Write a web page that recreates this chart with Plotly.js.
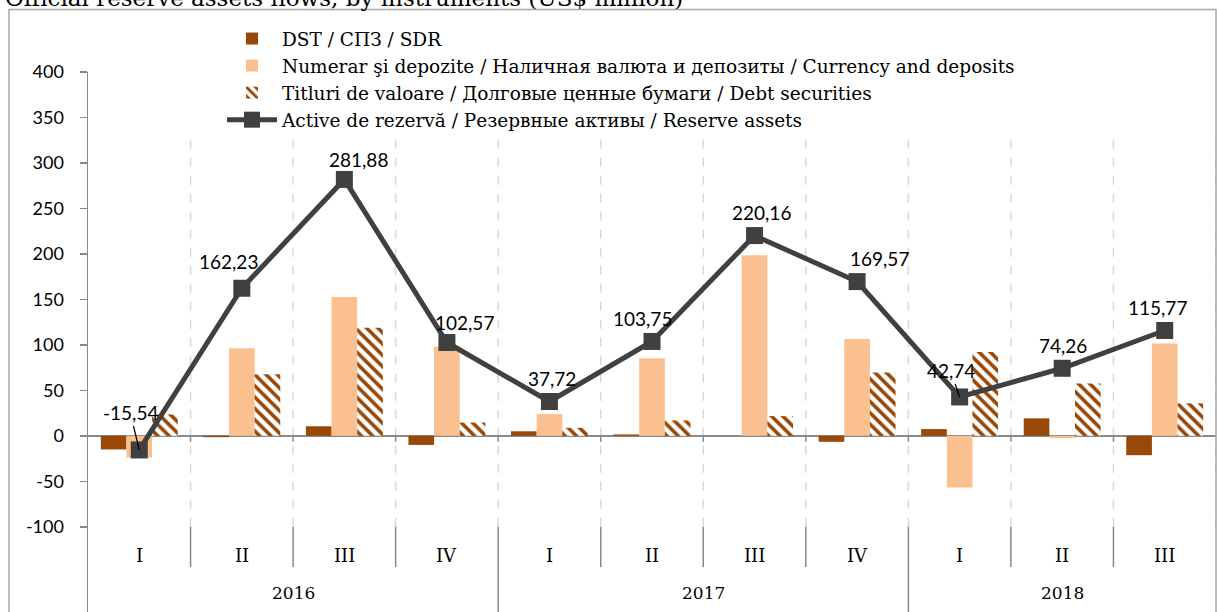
<!DOCTYPE html>
<html>
<head>
<meta charset="utf-8">
<script src="https://cdn.plot.ly/plotly-3.0.1.min.js"></script>
<style>
  html, body { margin: 0; padding: 0; background: #fff; }
  #chart { width: 1217px; height: 612px; }
</style>
</head>
<body>
<div id="chart"></div>
<script>
// ---------- data ----------
const quarters = ['I', 'II', 'III', 'IV', 'I', 'II', 'III', 'IV', 'I', 'II', 'III'];
const yearOfPeriod = ['2016', '2016', '2016', '2016', '2017', '2017', '2017', '2017', '2018', '2018', '2018'];
const years = ['2016', '2017', '2018'];
const dst = [-15, -1.5, 10.5, -10, 5, 1.5, 0, -6.6, 7.4, 19.2, -21.3];
const numerar = [-24, 96.2, 152.5, 98, 23.9, 85.3, 198.5, 106.5, -56.9, -2.5, 101.4];
const titluri = [23.5, 67.6, 118.9, 14.6, 8.8, 16.9, 21.7, 69.7, 92.2, 57.6, 35.7];
const reserve = [-15.54, 162.23, 281.88, 102.57, 37.72, 103.75, 220.16, 169.57, 42.74, 74.26, 115.77];
const yTicks = [-100, -50, 0, 50, 100, 150, 200, 250, 300, 350, 400];
const seriesNames = [
  'DST / СПЗ / SDR',
  'Numerar şi depozite / Наличная валюта и депозиты / Currency and deposits',
  'Titluri de valoare / Долговые ценные бумаги / Debt securities',
  'Active de rezervă / Резервные активы / Reserve assets'
];
const titleText = 'Official reserve assets flows, by instruments (US$ million)';

// ---------- styling / layout helpers ----------
const categories = quarters.map((q, i) => yearOfPeriod[i] + ' ' + q);
const C_DST = '#984807', C_NUM = '#FAC090', C_LINE = '#404040', C_AXIS = '#898989', C_GRID = '#d9d9d9';
const SANS = 'Lato, "Open Sans", sans-serif';
const SERIF = '"DejaVu Serif", serif';
// label offsets in pixels [dx, dy(up)], arrow flag
const labelOffsets = [[-9, 37, true], [-13, 27], [14, 20], [18, 20], [3, 23], [-10, 23], [7, 23], [22, 23], [-9, 26, true], [1, 23], [-7, 23]];

const Y_TOP = 400, Y_BOT = -193.7;
const Y_GRID_TOP = 327, Y_SEP_Q = -144.3, Y_TICK = -6.6;

const fmt = v => v.toFixed(2).replace('.', ',');

const traces = [
  { type: 'bar', name: seriesNames[0], x: categories, y: dst,
    marker: { color: C_DST, line: { width: 0 } } },
  { type: 'bar', name: seriesNames[1], x: categories, y: numerar,
    marker: { color: C_NUM, line: { width: 0 } } },
  { type: 'bar', name: seriesNames[2], x: categories, y: titluri,
    marker: { color: C_DST, line: { width: 0 },
      pattern: { shape: '\\', fgcolor: C_DST, bgcolor: '#ffffff', size: 8, solidity: 0.45, fillmode: 'replace' } } },
  { type: 'scatter', mode: 'lines+markers', name: seriesNames[3], x: categories, y: reserve,
    line: { color: C_LINE, width: 5 },
    marker: { symbol: 'square', size: 17, color: C_LINE } }
];

const shapes = [];
const n = categories.length;
const yearBoundary = new Set();
for (let i = 1; i < n; i++) if (yearOfPeriod[i] !== yearOfPeriod[i - 1]) yearBoundary.add(i);

for (let b = 1; b <= n; b++) {
  const xb = b - 0.5;
  shapes.push({ type: 'line', xref: 'x', yref: 'y', x0: xb, x1: xb, y0: -100, y1: Y_GRID_TOP,
    line: { color: C_GRID, width: 1.5, dash: 'dash' }, layer: 'below' });
  if (b < n) {
    shapes.push({ type: 'line', xref: 'x', yref: 'y', x0: xb, x1: xb, y0: 0, y1: Y_TICK,
      line: { color: C_AXIS, width: 1.5 } });
    shapes.push({ type: 'line', xref: 'x', yref: 'y', x0: xb, x1: xb, y0: -100,
      y1: yearBoundary.has(b) ? Y_BOT : Y_SEP_Q, line: { color: C_AXIS, width: 1.5 } });
  }
}
// outer frame
shapes.push({ type: 'rect', xref: 'paper', yref: 'paper',
  x0: (9 - 88) / 1128, x1: 1, y0: -0.1, y1: 1 + (72 - 9.5) / 540,
  line: { color: '#a6a6a6', width: 1.5 }, fillcolor: 'rgba(0,0,0,0)' });

const annotations = [];
quarters.forEach((q, i) => annotations.push({
  x: categories[i], y: -131.5, xref: 'x', yref: 'y', text: q, showarrow: false,
  font: { family: SERIF, size: 18, color: '#000' } }));
years.forEach(yr => {
  const idx = yearOfPeriod.map((v, i) => v === yr ? i : -1).filter(i => i >= 0);
  const first = idx[0], last = idx[idx.length - 1];
  annotations.push({ x: (first + last) / 2, y: -173, xref: 'x', yref: 'y', text: yr, showarrow: false,
    font: { family: SERIF, size: 17, color: '#000' } });
});
reserve.forEach((v, i) => {
  const [dx, dy, arrow] = labelOffsets[i];
  if (arrow) {
    annotations.push({ x: categories[i], y: v, xref: 'x', yref: 'y', text: fmt(v),
      showarrow: true, arrowhead: 0, arrowwidth: 1.3, arrowcolor: '#000', standoff: 0,
      ax: dx, ay: -dy, font: { family: SANS, size: 19, color: '#000' } });
  } else {
    annotations.push({ x: categories[i], y: v, xref: 'x', yref: 'y', text: fmt(v),
      showarrow: false, xshift: dx, yshift: dy, font: { family: SANS, size: 19, color: '#000' } });
  }
});
// title (cut off at the top edge, as in the source image)
annotations.push({ xref: 'paper', yref: 'paper', x: (3 - 88) / 1128, y: 1 + (72 - 13) / 540,
  xanchor: 'left', yanchor: 'bottom', text: titleText, showarrow: false,
  font: { family: SERIF, size: 23, color: '#000' } });

const layout = {
  width: 1217, height: 612,
  margin: { l: 88, r: 1, t: 72, b: 0, pad: 0 },
  paper_bgcolor: '#fff', plot_bgcolor: '#fff',
  barmode: 'group', bargap: 0.25, bargroupgap: 0,
  showlegend: true,
  legend: { x: (222 - 88) / 1128, xanchor: 'left', y: 1 + (72 - 20) / 540, yanchor: 'top',
    itemwidth: 50,
    bgcolor: 'rgba(255,255,255,1)', font: { family: SERIF, size: 18.5, color: '#000' },
    traceorder: 'normal', itemclick: false },
  xaxis: { type: 'category', range: [-0.5, n - 0.5], showticklabels: false, showgrid: false,
    zeroline: false, showline: false, ticks: '', fixedrange: true },
  yaxis: { range: [Y_BOT, Y_TOP], tickvals: yTicks, ticktext: yTicks.map(String),
    showgrid: false, zeroline: true, zerolinecolor: C_AXIS, zerolinewidth: 2,
    showline: true, linecolor: C_AXIS, linewidth: 1.5,
    ticks: 'outside', ticklen: 7, tickcolor: C_AXIS, tickwidth: 1.5, ticklabelstandoff: 12,
    tickfont: { family: SANS, size: 18, color: '#000' }, fixedrange: true },
  shapes: shapes,
  annotations: annotations
};

Plotly.newPlot('chart', traces, layout, { displayModeBar: false, staticPlot: true });
</script>
</body>
</html>
